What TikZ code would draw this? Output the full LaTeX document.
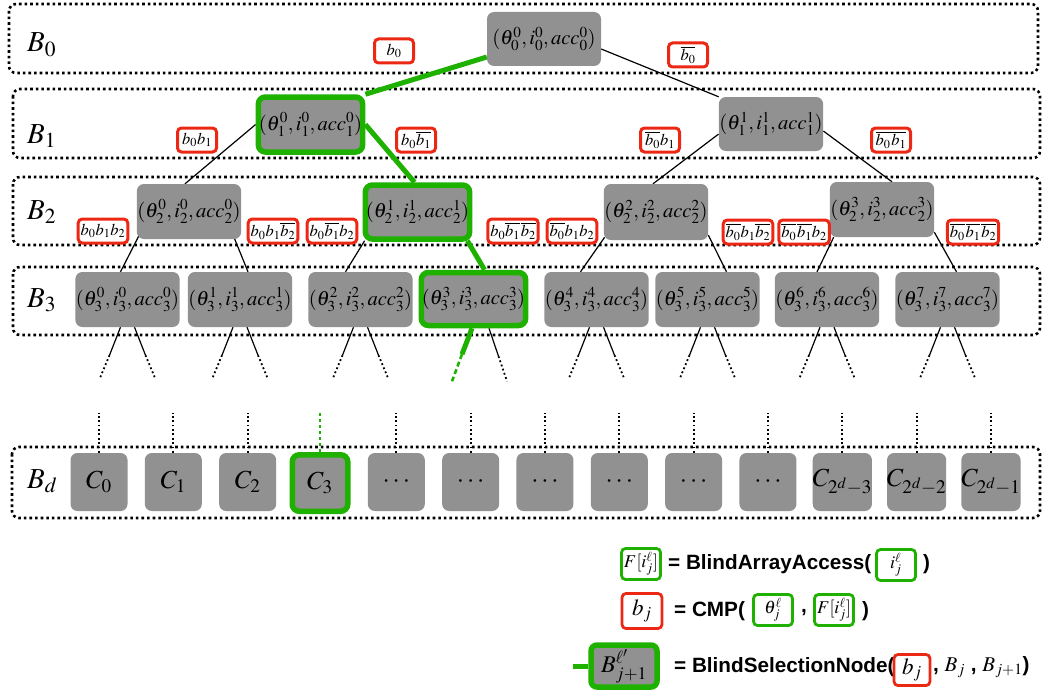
\documentclass[tikz,border=0pt]{standalone}
\usepackage{mathptmx}
\usepackage{fontspec}
\newfontfamily\legfont{Liberation Sans}
\usetikzlibrary{backgrounds,calc}
\definecolor{ngrey}{RGB}{145,145,145}
\definecolor{ngreen}{RGB}{30,177,0}
\definecolor{nred}{RGB}{236,40,20}
\tikzset{
 layerbox/.style={draw=black, line width=2.6pt, dash pattern=on 2.6pt off 3pt, rounded corners=7pt},
 gnode/.style={fill=ngrey, rounded corners=7pt, minimum width=104pt, minimum height=55pt, inner sep=0.5pt, font=\fontsize{20.5}{24}\selectfont},
 sel/.style={draw=ngreen, line width=5.5pt},
 lab/.style={draw=nred, fill=white, line width=3pt, rounded corners=4pt, minimum width=39pt, minimum height=24pt, inner xsep=2.5pt, inner ysep=1pt, font=\fontsize{16.5}{19}\selectfont},
 glab/.style={draw=ngreen, fill=white, line width=2.8pt, rounded corners=4pt, minimum width=39pt, minimum height=31pt, inner sep=1pt, font=\fontsize{18}{21}\selectfont},
 rlab/.style={draw=nred, fill=white, line width=2.8pt, rounded corners=4pt, minimum width=40pt, minimum height=35pt, inner sep=1pt, font=\fontsize{23}{26}\selectfont},
 edge/.style={draw=black, line width=1.2pt},
 seledge/.style={draw=ngreen, line width=5pt},
 dotedge/.style={draw=black, line width=1.8pt, dash pattern=on 1.8pt off 2.6pt},
 gdash/.style={draw=ngreen, line width=2.6pt, dash pattern=on 5pt off 3pt},
 gvdash/.style={draw=ngreen, line width=2pt, dash pattern=on 3.5pt off 2.5pt},
 layname/.style={anchor=base west, font=\fontsize{29}{32}\selectfont, inner sep=0pt},
 cnode/.style={fill=ngrey, rounded corners=7pt, minimum width=57pt, minimum height=58pt, inner sep=0pt, font=\fontsize{26}{30}\selectfont},
 legtext/.style={anchor=west, inner sep=0pt, font=\fontsize{20.7}{24}\legfont\bfseries},
}
\begin{document}
\begin{tikzpicture}[x=1pt,y=-1pt]
\useasboundingbox (0,0) rectangle (1060,693);

% layer names
\node[layname] (nB0) at (27,52) {$B_0$};
\node[layname] (nB1) at (27,143) {$B_1$};
\node[layname] (nB2) at (27,219) {$B_2$};
\node[layname] (nB3) at (27,307) {$B_3$};
\node[layname] (nBd) at (27,488) {$B_d$};

% tree nodes
\node[gnode, minimum width=114pt, minimum height=54pt] (r) at (544,39) {$(\theta_0^0, i_0^0, acc_0^0)$};
\node[gnode, sel, minimum width=101pt, minimum height=55pt] (b10) at (310.5,124.5) {$(\theta_1^0, i_1^0, acc_1^0)$};
\node[gnode, minimum height=54pt] (b11) at (771,124) {$(\theta_1^1, i_1^1, acc_1^1)$};
\node[gnode] (b20) at (189,211.5) {$(\theta_2^0, i_2^0, acc_2^0)$};
\node[gnode, sel, minimum width=103pt, minimum height=54pt] (b21) at (417.5,212) {$(\theta_2^1, i_2^1, acc_2^1)$};
\node[gnode, minimum width=102pt, minimum height=56pt] (b22) at (656,212) {$(\theta_2^2, i_2^2, acc_2^2)$};
\node[gnode, minimum width=102pt] (b23) at (882,209.5) {$(\theta_2^3, i_2^3, acc_2^3)$};
\foreach \n/\cx in {0/127.5,1/240,2/360.5,4/596.5,5/707.5,6/827,7/947.5}
  \node[gnode, minimum width=103pt] (b3\n) at (\cx,299.5) {$(\theta_3^{\n}, i_3^{\n}, acc_3^{\n})$};
\node[gnode, sel, minimum width=103.5pt, minimum height=53pt] (b33) at (473.5,299) {$(\theta_3^3, i_3^3, acc_3^3)$};

% leaves
\foreach \k/\t in {0/{C_0},1/{C_1},2/{C_2},4/{\cdots},5/{\cdots},6/{\cdots},7/{\cdots},8/{\cdots},9/{\cdots},10/{C_{2^d-3}},11/{C_{2^d-2}},12/{C_{2^d-1}}}
  \node[cnode] (c\k) at ({99+74.33*\k},482) {$\t$};
\node[cnode, sel, minimum width=55.5pt, minimum height=56.5pt] (c3) at (320,483) {$C_3$};

% red labels
\node[lab] (l0) at (394,51) {$b_0$};
\node[lab] (l1) at (688,55) {$\overline{b_0}$};
\node[lab] (l00) at (197,140) {$b_0b_1$};
\node[lab] (l01) at (416,140) {$b_0\overline{b_1}$};
\node[lab] (l10) at (660,140) {$\overline{b_0}b_1$};
\node[lab] (l11) at (891,140) {$\overline{b_0}\mkern1mu\overline{b_1}$};
\node[lab] (l000) at (103,231) {$b_0b_1b_2$};
\node[lab] (l001) at (273,231) {$b_0b_1\overline{b_2}$};
\node[lab] (l010) at (332,231) {$b_0\overline{b_1}b_2$};
\node[lab] (l011) at (513,231) {$b_0\overline{b_1}\mkern1mu\overline{b_2}$};
\node[lab] (l100) at (572,231) {$\overline{b_0}b_1b_2$};
\node[lab] (l101) at (748,232) {$\overline{b_0}b_1\overline{b_2}$};
\node[lab] (l110) at (804,232) {$\overline{b_0}\mkern1mu\overline{b_1}b_2$};
\node[lab] (l111) at (973,232) {$\overline{b_0}\mkern1mu\overline{b_1}\mkern1mu\overline{b_2}$};

% legend
\node[glab] (g1) at (641,564) {$F[i_j^\ell]$};
\node[legtext] (t1) at (668,564) {= BlindArrayAccess(};
\node[glab] (g2) at (896,565) {$i_j^\ell$};
\node[legtext] (t1e) at (923,564) {)};
\node[rlab] (r2) at (642,611) {$b_j$};
\node[legtext] (t2) at (674,611) {= CMP(};
\node[glab] (g3) at (773,610) {$\theta_j^\ell$};
\node[legtext] (t2c) at (801,613) {,};
\node[glab] (g4) at (834,610) {$F[i_j^\ell]$};
\node[legtext] (t2e) at (862,611) {)};
\node[fill=ngrey, draw=ngreen, line width=5.5pt, rounded corners=6pt, minimum width=66pt, minimum height=42pt, inner sep=0pt, font=\fontsize{24}{28}\selectfont] (lb) at (624,666) {$B_{j+1}^{\ell'}$};
\node[legtext] (t3) at (674,667) {= BlindSelectionNode(};
\node[rlab, minimum width=36pt, minimum height=31pt] (r3) at (912,670) {$b_j$};
\node[legtext] (t3e) at (933,667) {, {\fontsize{21}{24}\selectfont$B_j$} , {\fontsize{21}{24}\selectfont$B_{j+1}$})};

\begin{pgfonlayer}{background}
 \draw[layerbox] (9,4) rectangle (1038,73);
 \draw[layerbox] (13,89) rectangle (1040,158);
 \draw[layerbox] (13,177) rectangle (1040,245);
 \draw[layerbox] (13,267) rectangle (1040,335);
 \draw[layerbox] (12,447) rectangle (1040,518);

 % tree edges
 \draw[seledge] ($(r.west)+(0,18)$) -- (b10.north east);
 \draw[edge] ($(r.east)+(0,10)$) -- (b11.north west);
 \draw[edge] (b10.west) -- ($(b20.north)+(-4,0)$);
 \draw[seledge] (b10.east) -- ($(b21.north)+(-3,0)$);
 \draw[edge] ($(b11.west)+(0,10)$) -- ($(b22.north)+(-3,0)$);
 \draw[edge] ($(b11.east)+(0,7)$) -- ($(b23.north)+(10,0)$);
 \draw[edge] ($(b20.south west)+(2,-3)$) -- ($(b30.north)+(-7,0)$);
 \draw[edge] ($(b20.south east)+(-7,-1)$) -- ($(b31.north)+(8,0)$);
 \draw[edge] ($(b21.south west)+(2,-1)$) -- ($(b32.north)+(-15,0)$);
 \draw[seledge] ($(b21.south east)+(-5,-1)$) -- ($(b33.north)+(11,0)$);
 \draw[edge] ($(b22.south west)+(1,-3)$) -- ($(b34.north)+(-16,0)$);
 \draw[edge] ($(b22.south east)+(0,-5)$) -- ($(b35.north)+(19,0)$);
 \draw[edge] ($(b23.south west)+(4,0)$) -- ($(b36.north)+(-10,0)$);
 \draw[edge] ($(b23.south east)+(0,-5)$) -- ($(b37.north)+(9,0)$);

 % continuation below B3
 \foreach \n in {0,1,2,4,5,6,7} {
  \draw[edge] ($(b3\n.south)+(-7,0)$) -- ($(b3\n.south)+(-18,28)$) coordinate (b3\n-lm);
  \draw[dotedge] (b3\n-lm) -- ($(b3\n.south)+(-28,52)$) coordinate (b3\n-le);
  \draw[edge] ($(b3\n.south)+(7,0)$) -- ($(b3\n.south)+(18,28)$) coordinate (b3\n-rm);
  \draw[dotedge] (b3\n-rm) -- ($(b3\n.south)+(28,52)$) coordinate (b3\n-re);
 }
 \draw[seledge] ($(b33.south)+(-1.5,0)$) -- ($(b33.south)+(-11.5,26)$) coordinate (b33-lm);
 \draw[gdash] (b33-lm) -- ($(b33.south)+(-21.5,53)$) coordinate (b33-le);
 \draw[edge] ($(b33.south)+(15.5,0)$) -- ($(b33.south)+(25,28)$) coordinate (b33-rm);
 \draw[dotedge] (b33-rm) -- ($(b33.south)+(33.5,53)$) coordinate (b33-re);

 % leaf stubs
 \foreach \k in {0,1,2,4,5,6,7,8,9,10,11,12}
  \draw[dotedge] (c\k.north) -- ($(c\k.north)+(0,-40)$) coordinate (v\k);
 \draw[gvdash] (c3.north) -- ($(c3.north)+(0,-40)$) coordinate (v3);

 % legend stub
 \draw[seledge] (lb.west) -- ($(lb.west)+(-15,0)$) coordinate (lbs);
\end{pgfonlayer}
\end{tikzpicture}
\end{document}
